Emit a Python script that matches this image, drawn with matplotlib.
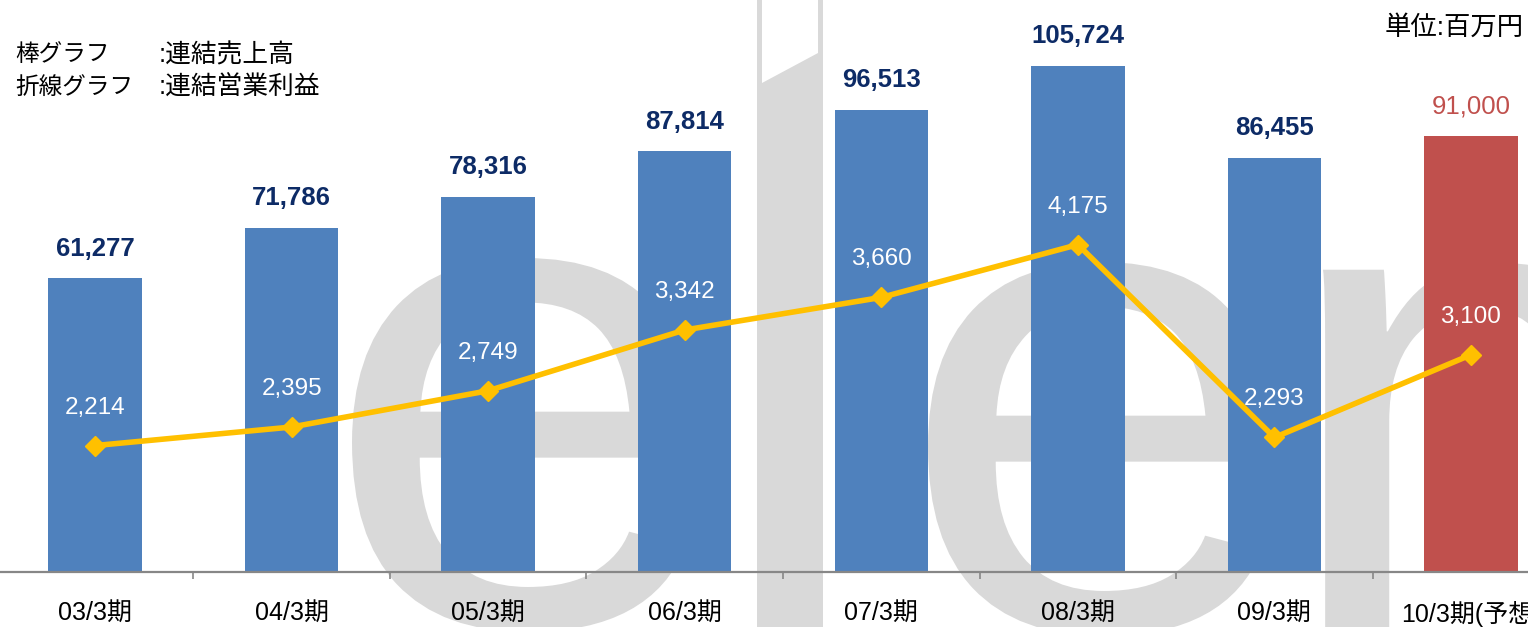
import matplotlib
matplotlib.use('Agg')
import matplotlib.pyplot as plt
from matplotlib.textpath import TextPath
from matplotlib.font_manager import FontProperties
from matplotlib.patches import PathPatch, Rectangle, Polygon
from matplotlib.transforms import Affine2D
import numpy as np

# ---------------- data ----------------
categories = ['03/3期', '04/3期', '05/3期', '06/3期', '07/3期', '08/3期', '09/3期', '10/3期(予想)']
sales = [61277, 71786, 78316, 87814, 96513, 105724, 86455, 91000]          # 連結売上高
op_income = [2214, 2395, 2749, 3342, 3660, 4175, 2293, 3100]              # 連結営業利益

FAM = ['Liberation Sans', 'Noto Sans CJK JP', 'DejaVu Sans']
plt.rcParams['font.family'] = FAM

W, H = 1528, 627
fig = plt.figure(figsize=(W / 100, H / 100), dpi=100)
fig.patch.set_facecolor('white')

# ---------------- watermark (logo letters) ----------------
bg = fig.add_axes([0, 0, 1, 1], zorder=0)
bg.set_xlim(0, W)
bg.set_ylim(H, 0)
bg.axis('off')
GRAY = '#D9D9D9'
fp = FontProperties(family='Liberation Sans')


def glyph_path(ch):
    tp = TextPath((0, 0), ch, size=1, prop=fp)
    ext = tp.get_extents()
    return tp, ext


tp_e, ext_e = glyph_path('e')
sx = 344 / ext_e.width
sy = 374 / ext_e.height


def place(tp, ext, left, top):
    tr = Affine2D().translate(-ext.x0, -ext.y1).scale(sx, -sy).translate(left, top)
    p = tr.transform_path(tp)
    bg.add_patch(PathPatch(p, facecolor=GRAY, edgecolor='none'))


place(tp_e, ext_e, 352, 258)
place(tp_e, ext_e, 928, 262)
tp_m, ext_m = glyph_path('m')
place(tp_m, ext_m, 1323, 263)
bg.add_patch(Rectangle((757, 0), 66, H, facecolor=GRAY, edgecolor='none'))
bg.add_patch(Polygon([(762, -1), (818, -1), (818, 53), (762, 83)], closed=True,
                     facecolor='white', edgecolor='none'))

# ---------------- main axes ----------------
step = (1471 - 95) / 7
left_px = 95 - step / 2
ax_h_px = 120000 * 0.00479
ax = fig.add_axes([left_px / W, (H - 572) / H, 8 * step / W, ax_h_px / H], zorder=1)
ax.patch.set_visible(False)

x = np.arange(len(categories))
bar_colors = ['#4F81BD'] * 7 + ['#C0504D']
ax.bar(x, sales, width=0.475, color=bar_colors, zorder=2)
ax.set_xlim(-0.5, 7.5)
ax.set_ylim(0, 120000)
for s in ['top', 'left', 'right']:
    ax.spines[s].set_visible(False)
ax.spines['bottom'].set_color('#878787')
ax.spines['bottom'].set_linewidth(1.6)
ax.set_yticks([])
ax.set_xticks(np.arange(0.5, 7, 1))
ax.set_xticklabels([])
ax.tick_params(axis='x', which='major', length=5, width=1.2, color='#878787', direction='out')
ax.set_xticks(x, minor=True)
ax.set_xticklabels(categories, minor=True, fontsize=18, color='black')
ax.tick_params(axis='x', which='minor', length=0, pad=21)

for i, v in enumerate(sales):
    last = i == len(sales) - 1
    ax.annotate(f"{v:,}", (x[i], v), xytext=(0, 21.5), textcoords='offset points',
                ha='center', va='center', fontsize=18.5,
                fontweight='normal' if last else 'bold',
                color='#C0504D' if last else '#0D2B66', zorder=4)

# ---------------- line (secondary axis) ----------------
ax2 = ax.twinx()
ax2.patch.set_visible(False)
ax2.set_ylim(980, 6590)
for s in ax2.spines.values():
    s.set_visible(False)
ax2.set_yticks([])
ax2.plot(x, op_income, color='#FFC000', lw=4, marker='D', ms=10, zorder=3,
         solid_joinstyle='miter')
for i, v in enumerate(op_income):
    ax2.annotate(f"{v:,}", (x[i], v), xytext=(0, 27.4), textcoords='offset points',
                 ha='center', va='center', fontsize=17.5, color='white', zorder=4)

# ---------------- texts ----------------
fig.text(15 / W, 1 - 55 / H, '棒グラフ', fontsize=17, va='center', ha='left')
fig.text(159 / W, 1 - 55 / H, ':連結売上高', fontsize=18.5, va='center', ha='left')
fig.text(15 / W, 1 - 88 / H, '折線グラフ', fontsize=17, va='center', ha='left')
fig.text(159 / W, 1 - 88 / H, ':連結営業利益', fontsize=18.5, va='center', ha='left')
fig.text(1524 / W, 1 - 27 / H, '単位:百万円', fontsize=19, va='center', ha='right')

fig.savefig('out.png', dpi=100)
